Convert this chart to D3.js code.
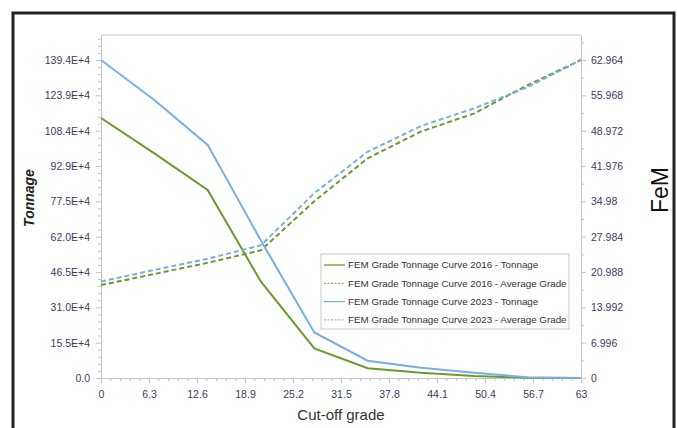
<!DOCTYPE html>
<html>
<head>
<meta charset="utf-8">
<script src="https://cdn.jsdelivr.net/npm/d3@7"></script>
<style>
  body { margin: 0; background: #fff; }
  svg { display: block; font-family: "Liberation Sans", Arial, sans-serif; }
  .tick text { fill: #3c3c5c; font-size: 10.5px; }
</style>
</head>
<body>
<svg id="chart" width="677" height="428"></svg>
<script>
// cut-off grades
const grades = [0, 7, 14, 21, 28, 35, 42, 49, 56, 63];
// tonnage in units of 1E+4
const tonnage2016 = [114.0, 98.5, 82.4, 42.2, 13.0, 4.25, 2.3, 0.9, 0.1, 0];
const tonnage2023 = [139.4, 121.9, 102.2, 60.2, 20.0, 7.6, 4.5, 2.3, 0.3, 0];
// average grade (FeM)
const grade2016 = [18.4, 20.6, 22.8, 25.3, 35.0, 43.5, 48.8, 52.4, 58.0, 62.964];
const grade2023 = [19.1, 21.4, 23.6, 26.3, 36.6, 44.8, 49.9, 53.4, 57.6, 62.964];

const xTicks = [0, 6.3, 12.6, 18.9, 25.2, 31.5, 37.8, 44.1, 50.4, 56.7, 63];
const xTickLabels = ['0', '6.3', '12.6', '18.9', '25.2', '31.5', '37.8', '44.1', '50.4', '56.7', '63'];
const leftTicks = [0, 15.49, 30.98, 46.47, 61.96, 77.45, 92.94, 108.43, 123.92, 139.41];
const leftTickLabels = ['0.0', '15.5E+4', '31.0E+4', '46.5E+4', '62.0E+4', '77.5E+4', '92.9E+4', '108.4E+4', '123.9E+4', '139.4E+4'];
const rightTicks = [0, 6.996, 13.992, 20.988, 27.984, 34.98, 41.976, 48.972, 55.968, 62.964];
const rightTickLabels = ['0', '6.996', '13.992', '20.988', '27.984', '34.98', '41.976', '48.972', '55.968', '62.964'];

const series = [
  { name: 'FEM Grade Tonnage Curve 2016 - Tonnage', vals: tonnage2016, axis: 'left', color: '#6b9a2e', dash: null },
  { name: 'FEM Grade Tonnage Curve 2016 - Average Grade', vals: grade2016, axis: 'right', color: '#6b9a2e', dash: '5,3' },
  { name: 'FEM Grade Tonnage Curve 2023 - Tonnage', vals: tonnage2023, axis: 'left', color: '#78aee6', dash: null },
  { name: 'FEM Grade Tonnage Curve 2023 - Average Grade', vals: grade2023, axis: 'right', color: '#78aee6', dash: '5,3' }
];

const svg = d3.select('#chart');
const m = { top: 35, right: 96, bottom: 50, left: 101 };
const W = 677, H = 428;
const x0 = m.left, x1 = W - m.right, y0 = H - m.bottom, y1 = m.top;

// outer frame
svg.append('rect')
  .attr('x', 13).attr('y', 13).attr('width', 661).attr('height', 440)
  .attr('fill', 'none').attr('stroke', '#222').attr('stroke-width', 3);

const x = d3.scaleLinear().domain([0, 63]).range([x0, x1]);
const yL = d3.scaleLinear().domain([0, 139.41 * (y0 - y1) / (y0 - 60)]).range([y0, y1]);
const yR = d3.scaleLinear().domain([0, 62.964 * (y0 - y1) / (y0 - 60)]).range([y0, y1]);

const axisColor = '#c4c4c4';

// plot frame top
svg.append('line')
  .attr('x1', x0).attr('x2', x1).attr('y1', y1).attr('y2', y1)
  .attr('stroke', axisColor);

function minor(major, n) {
  const out = [];
  for (let i = 0; i < major.length - 1; i++) {
    const step = (major[i + 1] - major[i]) / n;
    for (let k = 1; k < n; k++) out.push(major[i] + step * k);
  }
  return out;
}

function styleAxis(ax) {
  ax.select('.domain').attr('stroke', axisColor);
  ax.selectAll('.tick line').attr('stroke', axisColor);
}

// minor ticks
const leftMinor = minor(leftTicks, 5);
leftMinor.push(139.41 + 3.098, 139.41 + 6.196, 139.41 + 9.294);
svg.append('g').attr('transform', `translate(${x0},0)`)
  .call(d3.axisLeft(yL).tickValues(leftMinor).tickSize(3).tickFormat(''))
  .call(styleAxis)
  .call(ax => ax.select('.domain').remove());
svg.append('g').attr('transform', `translate(${x1},0)`)
  .call(d3.axisRight(yR).tickValues(minor(rightTicks, 2).concat([62.964 + 3.498])).tickSize(3).tickFormat(''))
  .call(styleAxis)
  .call(ax => ax.select('.domain').remove());
svg.append('g').attr('transform', `translate(0,${y0})`)
  .call(d3.axisBottom(x).tickValues(minor(xTicks, 5)).tickSize(3).tickFormat(''))
  .call(styleAxis)
  .call(ax => ax.select('.domain').remove());

// major axes
svg.append('g').attr('transform', `translate(${x0},0)`)
  .call(d3.axisLeft(yL).tickValues(leftTicks).tickSize(5).tickSizeOuter(0).tickPadding(6)
    .tickFormat((d, i) => leftTickLabels[i]))
  .call(styleAxis);
svg.append('g').attr('transform', `translate(${x1},0)`)
  .call(d3.axisRight(yR).tickValues(rightTicks).tickSize(5).tickSizeOuter(0).tickPadding(5)
    .tickFormat((d, i) => rightTickLabels[i]))
  .call(styleAxis);
svg.append('g').attr('transform', `translate(0,${y0})`)
  .call(d3.axisBottom(x).tickValues(xTicks).tickSize(5).tickSizeOuter(0).tickPadding(6)
    .tickFormat((d, i) => xTickLabels[i]))
  .call(styleAxis)
  .call(ax => ax.selectAll('.tick text').attr('dy', '0.9em'));

// lines
series.forEach(s => {
  const yS = s.axis === 'left' ? yL : yR;
  const line = d3.line().x((d, i) => x(grades[i])).y(d => yS(d));
  svg.append('path')
    .datum(s.vals)
    .attr('d', line)
    .attr('fill', 'none')
    .attr('stroke', s.color)
    .attr('stroke-width', 2)
    .attr('stroke-dasharray', s.dash);
});

// axis titles
svg.append('text')
  .attr('transform', 'translate(34,198) rotate(-90)')
  .attr('text-anchor', 'middle')
  .attr('font-size', 14).attr('font-weight', 'bold').attr('font-style', 'italic')
  .attr('fill', '#222')
  .text('Tonnage');

svg.append('text')
  .attr('transform', 'translate(668,190) rotate(-90)')
  .attr('text-anchor', 'middle')
  .attr('font-size', 23)
  .attr('fill', '#111')
  .text('FeM');

svg.append('text')
  .attr('x', (x0 + x1) / 2).attr('y', 420)
  .attr('text-anchor', 'middle')
  .attr('font-size', 15)
  .attr('fill', '#333')
  .text('Cut-off grade');

// legend
const lg = svg.append('g').attr('transform', 'translate(321,254)');
lg.append('rect')
  .attr('width', 248).attr('height', 75)
  .attr('fill', '#fff').attr('stroke', '#c8c8c8');
series.forEach((s, i) => {
  const ly = 11 + i * 18.3;
  lg.append('line')
    .attr('x1', 3).attr('x2', 24).attr('y1', ly).attr('y2', ly)
    .attr('stroke', s.color).attr('stroke-width', s.dash ? 1 : 1.3)
    .attr('stroke-dasharray', s.dash ? '2,1.5' : null);
  lg.append('text')
    .attr('x', 27).attr('y', ly).attr('dy', '0.35em')
    .attr('font-size', 9.8).attr('fill', '#333')
    .text(s.name);
});
</script>
</body>
</html>
